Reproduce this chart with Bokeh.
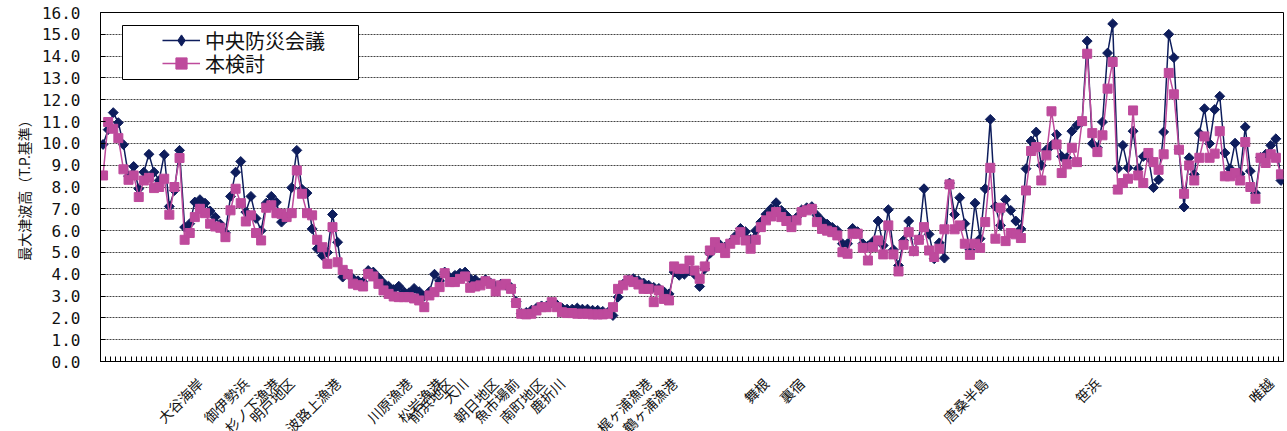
import numpy as np
from bokeh.plotting import figure
from bokeh.layouts import column
from bokeh.models import (ColumnDataSource, Range1d, FixedTicker, NumeralTickFormatter,
                          Legend, LegendItem, CDSView, IndexFilter, BoxAnnotation)
from bokeh.core.properties import value
from bokeh.embed import file_html
from bokeh.resources import INLINE

# 最大津波高 (T.P.基準) at each coastal point, 中央防災会議 model
central = [
    9.95, 10.63, 11.41, 10.95, 9.94, 8.50, 8.94, 7.92, 8.68, 9.50,
    8.68, 8.30, 9.48, 7.11, 7.84, 9.68, 6.16, 6.32, 7.31, 7.42,
    7.26, 6.90, 6.62, 6.30, 5.90, 7.57, 8.68, 9.17, 6.85, 7.57,
    6.56, 6.00, 7.26, 7.57, 7.30, 6.39, 6.60, 7.97, 9.68, 7.90,
    7.72, 6.08, 5.17, 4.86, 5.00, 6.74, 5.47, 3.87, 4.02, 3.80,
    3.70, 3.65, 4.17, 4.10, 3.85, 3.60, 3.45, 3.30, 3.45, 3.20,
    3.15, 3.35, 3.20, 3.00, 3.20, 4.00, 3.70, 4.10, 3.85, 3.95,
    4.05, 4.10, 3.80, 3.75, 3.60, 3.75, 3.60, 3.45, 3.55, 3.50,
    3.40, 2.75, 2.20, 2.25, 2.35, 2.45, 2.55, 2.55, 2.70, 2.60,
    2.45, 2.40, 2.40, 2.45, 2.40, 2.40, 2.35, 2.35, 2.30, 2.25,
    2.11, 2.95, 3.55, 3.75, 3.80, 3.70, 3.60, 3.50, 3.40, 3.35,
    3.20, 3.10, 4.10, 3.95, 4.00, 4.15, 4.00, 3.44, 4.25, 4.95,
    5.25, 5.35, 5.25, 5.45, 5.75, 6.10, 5.95, 5.60, 6.00, 6.39,
    6.75, 7.00, 7.28, 6.93, 6.70, 6.45, 6.60, 6.95, 7.05, 7.10,
    6.70, 6.45, 6.30, 6.15, 6.00, 5.40, 5.40, 6.10, 5.95, 5.40,
    5.30, 5.50, 6.44, 5.32, 6.96, 5.12, 4.40, 5.55, 6.44, 5.06,
    5.60, 7.92, 5.83, 4.71, 5.44, 4.74, 8.18, 6.74, 7.51, 6.32,
    5.12, 7.26, 5.63, 7.92, 11.10, 7.11, 6.24, 7.42, 6.93, 6.44,
    6.08, 8.84, 10.11, 10.52, 8.99, 9.70, 9.90, 10.40, 9.40, 9.34,
    10.56, 10.83, 11.00, 14.69, 9.99, 9.80, 10.98, 14.14, 15.48, 8.84,
    9.91, 8.88, 10.56, 8.84, 9.40, 9.36, 7.97, 8.33, 10.52, 15.00,
    13.93, 9.70, 7.08, 9.34, 8.58, 10.47, 11.59, 9.99, 11.55, 12.16,
    9.56, 8.84, 10.01, 8.60, 10.75, 8.73, 7.72, 9.36, 9.50, 9.91,
    10.21, 8.30,
]

# 最大津波高 (T.P.基準) at the same points, 本検討
study = [
    8.53, 10.98, 10.67, 10.24, 8.81, 8.33, 8.53, 7.54, 8.30, 8.42,
    7.95, 8.00, 8.38, 6.73, 8.00, 9.33, 5.58, 5.89, 6.62, 7.00,
    6.80, 6.32, 6.19, 6.13, 5.70, 6.93, 7.92, 7.26, 6.42, 6.70,
    5.89, 5.55, 7.05, 7.16, 6.80, 6.77, 6.62, 6.80, 8.76, 7.69,
    6.80, 6.70, 5.58, 5.24, 4.48, 6.16, 4.55, 4.20, 4.00, 3.57,
    3.50, 3.44, 4.02, 3.90, 3.56, 3.26, 3.10, 2.98, 2.95, 2.95,
    2.95, 2.89, 2.80, 2.49, 3.03, 3.18, 3.41, 4.05, 3.64, 3.64,
    3.79, 3.90, 3.38, 3.44, 3.49, 3.68, 3.56, 3.21, 3.49, 3.56,
    3.33, 2.68, 2.19, 2.16, 2.19, 2.34, 2.49, 2.49, 2.72, 2.49,
    2.26, 2.22, 2.22, 2.19, 2.19, 2.19, 2.16, 2.16, 2.16, 2.19,
    2.49, 3.33, 3.49, 3.72, 3.64, 3.53, 3.33, 3.33, 2.72, 3.26,
    2.87, 2.80, 4.36, 4.25, 4.25, 4.63, 4.17, 3.79, 4.36, 5.09,
    5.47, 5.21, 4.97, 5.40, 5.58, 5.93, 5.55, 5.17, 5.58, 6.16,
    6.47, 6.65, 6.85, 6.62, 6.44, 6.16, 6.47, 6.85, 6.93, 7.00,
    6.39, 6.08, 6.00, 5.93, 5.78, 5.01, 4.94, 5.86, 5.86, 5.21,
    4.63, 5.24, 5.55, 4.91, 6.24, 4.91, 4.13, 5.35, 5.93, 5.06,
    5.58, 6.16, 5.09, 4.79, 5.17, 6.06, 8.12, 6.06, 6.24, 5.40,
    4.89, 5.40, 5.21, 6.39, 8.88, 5.63, 7.05, 5.52, 5.89, 5.83,
    5.66, 7.84, 9.65, 9.83, 8.30, 9.45, 11.47, 9.95, 8.64, 9.04,
    9.80, 9.14, 11.02, 14.11, 10.47, 9.60, 10.37, 12.51, 13.73, 7.88,
    8.18, 8.38, 11.51, 8.53, 8.18, 9.56, 9.14, 8.79, 9.50, 13.23,
    12.25, 9.71, 7.69, 8.99, 8.30, 9.34, 10.32, 9.34, 9.53, 10.56,
    8.49, 8.49, 8.64, 8.30, 10.06, 8.00, 7.46, 9.34, 9.10, 9.50,
    9.34, 8.58,
]

# Named locations along the coast and the point index each one marks
site_names = ["大谷海岸", "御伊勢浜", "杉ノ下漁港", "明戸地区", "波路上漁港",
              "川原漁港", "松岩漁港", "前浜地区", "大川", "朝日地区",
              "魚市場前", "南町地区", "鹿折川", "梶ヶ浦漁港", "鶴ヶ浦漁港",
              "舞根", "裏宿", "唐桑半島", "笹浜", "唯越"]
site_index = [19, 28, 34, 37, 46,
              60, 66, 68, 71, 77,
              81, 86, 90, 107, 112,
              130, 137, 173, 195, 229]

y_ticks = list(range(0, 17))

NAVY = "#0E1D5C"
PINK = "#BE4A9C"
JP_FONT = "Noto Sans CJK JP"
TEXT = "#111111"

W = 1287
LEFT, RIGHT, TOP = 100, 4, 12
FRAME_H = 349           # plot area height
AXIS_GAP = 10           # room under the x axis line in the chart figure
NAMES_H = 60            # strip holding the slanted location names
NAME_DROP = 19          # distance of a name's end below the x axis line

n = len(central)
idx = list(range(n))
src = ColumnDataSource(dict(x=idx, central=central, study=study))
x_range = Range1d(-0.5, n - 0.5)

p = figure(width=W, height=TOP + FRAME_H + AXIS_GAP, output_backend="svg",
           toolbar_location=None, x_range=x_range, y_range=Range1d(0, 16),
           min_border_left=LEFT, min_border_right=RIGHT, min_border_top=TOP,
           min_border_bottom=AXIS_GAP)
p.background_fill_color = "white"
p.border_fill_color = "white"
p.outline_line_color = "black"
p.outline_line_width = 1

# y axis: 0.0 .. 16.0, ticks pointing into the plot
p.yaxis.ticker = FixedTicker(ticks=y_ticks)
p.yaxis.formatter = NumeralTickFormatter(format="0.0")
p.yaxis.major_tick_in = 5
p.yaxis.major_tick_out = 0
p.yaxis.minor_tick_line_color = None
p.yaxis.axis_line_color = "black"
p.yaxis.major_tick_line_color = "black"
p.yaxis.major_label_text_font = "DejaVu Sans Mono"
p.yaxis.major_label_text_font_size = "16px"
p.yaxis.major_label_text_color = TEXT
p.yaxis.major_label_standoff = 20
p.yaxis.axis_label = "最大津波高（T.P.基準）"
p.yaxis.axis_label_text_font = JP_FONT
p.yaxis.axis_label_text_font_size = "14px"
p.yaxis.axis_label_text_font_style = "normal"
p.yaxis.axis_label_text_color = TEXT
p.yaxis.axis_label_standoff = 5

# x axis: one small tick between every pair of points; names go in the strip below
p.xaxis.ticker = FixedTicker(ticks=[], minor_ticks=[i - 0.5 for i in range(n + 1)])
p.xaxis.major_tick_in = 0
p.xaxis.major_tick_out = 0
p.xaxis.minor_tick_in = 5
p.xaxis.minor_tick_out = 0
p.xaxis.minor_tick_line_color = "black"
p.xaxis.axis_line_color = "black"
p.xaxis.major_label_text_font_size = "0px"
p.xaxis.major_label_standoff = 0

p.xgrid.visible = False
p.ygrid.grid_line_color = "#444444"
p.ygrid.grid_line_dash = "2 1"
p.ygrid.grid_line_width = 1

# series: 中央防災会議 first, 本検討 drawn over it
bl = p.line("x", "central", source=src, line_color=NAVY, line_width=1.5)
# diamond swatch for the legend; its single point sits under the first marker
b_key = p.scatter("x", "central", source=src, view=CDSView(filter=IndexFilter(indices=[0])),
                  marker="diamond", size=9, fill_color=NAVY, line_color=NAVY)
bs = p.scatter("x", "central", source=src, marker="square", angle=np.pi / 4, size=7,
               fill_color=NAVY, line_color=NAVY)
pl = p.line("x", "study", source=src, line_color=PINK, line_width=1.5)
ps = p.scatter("x", "study", source=src, marker="square", size=9,
               fill_color=PINK, line_color=PINK)

# legend frame (screen px measured from the plot area's bottom-left corner)
LEG_LEFT, LEG_RIGHT, LEG_BOTTOM, LEG_TOP = 22, 258, 282, 336
p.add_layout(BoxAnnotation(left=LEG_LEFT, right=LEG_RIGHT, bottom=LEG_BOTTOM, top=LEG_TOP,
                           left_units="screen", right_units="screen",
                           bottom_units="screen", top_units="screen",
                           fill_color="white", fill_alpha=1.0,
                           line_color="black", line_width=1, line_alpha=1.0))

ROW_H = 30              # height of one legend row
GLYPH_X = 62            # legend swatch start, from the plot area's left edge
row_mid = [LEG_TOP - 15, LEG_TOP - 38]   # centre line of each row


def legend_row(label, renderers, mid):
    return Legend(items=[LegendItem(label=label, renderers=renderers)],
                  location=(GLYPH_X, mid - ROW_H // 2),
                  label_text_font=JP_FONT, label_text_font_size="20px",
                  label_text_color=TEXT, glyph_width=38, glyph_height=28,
                  label_height=ROW_H, label_standoff=5, padding=0, spacing=0,
                  margin=0, border_line_color=None, background_fill_alpha=0.0)


p.add_layout(legend_row("中央防災会議", [bl, b_key], row_mid[0]))
p.add_layout(legend_row("本検討", [pl, ps], row_mid[1]))

# strip under the chart with the slanted location names, sharing the x range
names = figure(width=W, height=NAMES_H, output_backend="svg", toolbar_location=None,
               x_range=x_range, y_range=Range1d(0, NAMES_H),
               x_axis_type=None, y_axis_type=None,
               min_border_left=LEFT, min_border_right=RIGHT,
               min_border_top=0, min_border_bottom=0)
names.outline_line_color = None
names.grid.visible = False
names.background_fill_color = "white"
names.border_fill_color = "white"
site_src = ColumnDataSource(dict(x=site_index, text=site_names))
names.text(x="x", y=NAMES_H - (NAME_DROP - AXIS_GAP), text="text", source=site_src,
           angle=np.pi / 4, text_align="right", text_baseline="middle",
           text_font=value(JP_FONT), text_font_size="14px", text_color=TEXT)

layout = column(p, names, spacing=0)
open("out.html", "w").write(file_html(layout, INLINE))
